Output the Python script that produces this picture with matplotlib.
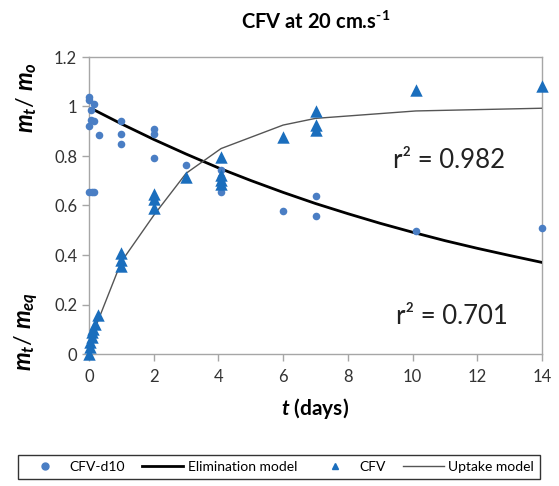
import numpy as np
import matplotlib
matplotlib.use("Agg")
import matplotlib.pyplot as plt
from matplotlib.lines import Line2D
from matplotlib.ticker import FuncFormatter

plt.rcParams['font.family'] = ['Lato', 'DejaVu Sans']
plt.rcParams['mathtext.fontset'] = 'custom'
plt.rcParams['mathtext.it'] = 'Lato:italic:bold'
plt.rcParams['mathtext.rm'] = 'Lato:bold'
plt.rcParams['mathtext.bf'] = 'Lato:bold'

# CFV-d10 (elimination) observations
d10_t = [0.0, 0.0, 0.16, 0.05, 0.05, 0.16, 0.0, 0.31, 0.0, 0.08, 0.16,
         1.0, 1.0, 1.0, 2.0, 2.0, 2.0, 3.0, 4.08, 4.08, 4.08, 4.08,
         6.0, 7.0, 7.0, 10.1, 14.0]
d10_y = [1.04, 1.027, 1.01, 0.986, 0.945, 0.94, 0.92, 0.885, 0.656, 0.656, 0.656,
         0.94, 0.888, 0.85, 0.908, 0.888, 0.79, 0.765, 0.743, 0.716, 0.70, 0.656,
         0.578, 0.638, 0.558, 0.498, 0.51]

# CFV (uptake) observations
cfv_t = [0.0, 0.04, 0.04, 0.08, 0.08, 0.125, 0.17, 0.29,
         1.0, 1.0, 1.0, 2.0, 2.0, 2.0, 3.0,
         4.08, 4.08, 4.08, 4.08, 6.0, 7.0, 7.0, 7.0, 10.1, 14.0]
cfv_y = [0.0, 0.03, 0.05, 0.07, 0.09, 0.10, 0.12, 0.158,
         0.408, 0.378, 0.355, 0.645, 0.625, 0.588, 0.716,
         0.797, 0.723, 0.705, 0.688, 0.878, 0.982, 0.925, 0.905, 1.067, 1.083]

# Elimination model curve
elim_t = [0.16, 1, 2, 3, 4, 5, 6, 7, 8, 9, 10, 11, 12, 13, 14]
elim_y = [0.986, 0.93, 0.867, 0.808, 0.752, 0.701, 0.653, 0.608, 0.567,
          0.528, 0.492, 0.458, 0.427, 0.398, 0.37]

# Uptake model
upt_t = [0.0, 0.13, 1.0, 2.0, 3.0, 4.08, 6.0, 7.0, 10.1, 14.0]
upt_y = [0.04, 0.085, 0.373, 0.56, 0.73, 0.83, 0.925, 0.952, 0.982, 0.993]

fig = plt.figure(figsize=(5.59, 4.86), dpi=100)
ax = fig.add_axes([89/559, 1-354/486, (542-89)/559, (354-57)/486])

c_circ = '#4A7EC4'
c_tri = '#1A6EBD'

ax.plot(elim_t, elim_y, color='black', lw=2.0, zorder=3)
ax.plot(upt_t, upt_y, color='#555555', lw=1.0, zorder=3)
ax.scatter(d10_t, d10_y, s=30, color=c_circ, marker='o', zorder=4, clip_on=False, linewidths=0)
ax.scatter(cfv_t, cfv_y, s=80, color=c_tri, marker='^', zorder=4, clip_on=False, linewidths=0)

ax.set_xlim(0, 14)
ax.set_ylim(0, 1.2)
ax.set_xticks(np.arange(0, 15, 2))
ax.set_yticks(np.arange(0, 1.21, 0.2))
ax.yaxis.set_major_formatter(FuncFormatter(lambda v, p: f'{v:.1f}'.rstrip('0').rstrip('.') if v != 0 else '0'))
for s in ax.spines.values():
    s.set_color('#A6A6A6')
    s.set_linewidth(1.0)
ax.tick_params(axis='both', direction='out', length=5, color='#A6A6A6',
               labelsize=12, labelcolor='#333333', width=1.0)
ax.tick_params(axis='x', pad=6)

ax.set_xlabel(r'$t$ (days)', fontsize=15, fontweight='bold', labelpad=8)

fig.text(27/559, 1-98/486, r'$m_t$/ $m_o$', rotation=90, fontsize=17,
         ha='center', va='center')
fig.text(27/559, 1-331/486, r'$m_t$/ $m_{eq}$', rotation=90, fontsize=17,
         ha='center', va='center')

fig.text(316/559, 1-22/486, r'CFV at 20 cm.s$^{\text{-1}}$', fontsize=14.5,
         fontweight='bold', ha='center', va='center')

ax.text(449/559, 1-161/486, 'r² = 0.982', fontsize=18.5, ha='center', va='center',
        transform=fig.transFigure, color='#222222')
ax.text(452/559, 1-316/486, 'r² = 0.701', fontsize=18.5, ha='center', va='center',
        transform=fig.transFigure, color='#222222')

handles = [
    Line2D([], [], ls='none', marker='o', color=c_circ, markersize=5),
    Line2D([], [], color='black', lw=2.0),
    Line2D([], [], ls='none', marker='^', color=c_tri, markersize=5),
    Line2D([], [], color='#555555', lw=1.0),
]
labels = ['CFV-d10', 'Elimination model', 'CFV', 'Uptake model']
leg = fig.legend(handles, labels, loc='center', ncol=4,
                 bbox_to_anchor=(279/559, 1-467/486), fontsize=10,
                 frameon=True, fancybox=False, edgecolor='black',
                 handlelength=3.0, columnspacing=1.2, handletextpad=0.3,
                 borderpad=0.4, borderaxespad=0)
leg.get_frame().set_linewidth(1.0)

fig.savefig('out.png', dpi=100)
